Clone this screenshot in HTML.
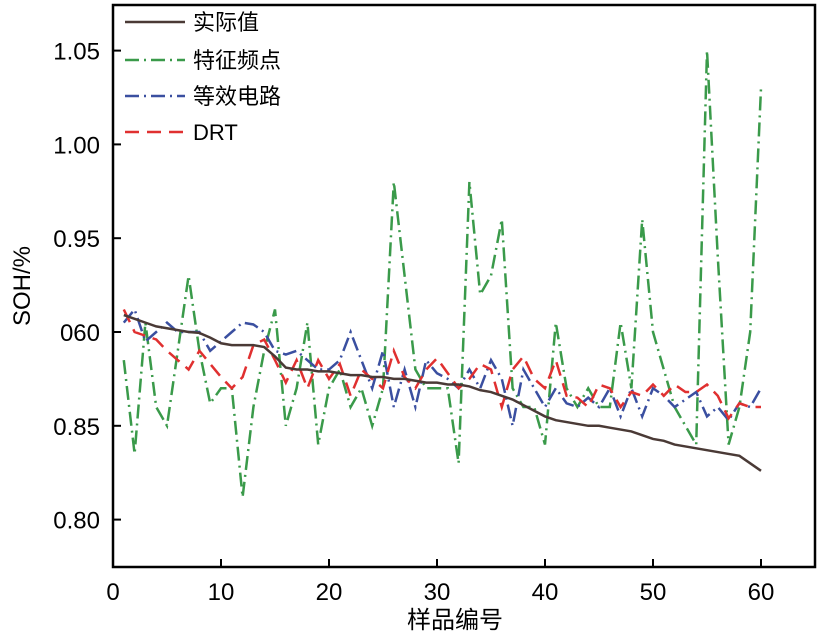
<!DOCTYPE html>
<html><head><meta charset="utf-8">
<style>
body{margin:0;background:#fff;}
svg text{font-family:"Liberation Sans","Noto Sans CJK SC",sans-serif;}
</style></head>
<body>
<svg id="chart" width="817" height="632" xmlns="http://www.w3.org/2000/svg">
<rect x="0" y="0" width="817" height="632" fill="#fff"/>
<g id="marks"></g>
<rect x="113" y="5" width="702" height="562" fill="none" stroke="#000" stroke-width="2.5"/>
<g id="axes"></g>
<text x="455" y="628" font-size="24" text-anchor="middle">样品编号</text>
<text transform="translate(30,286) rotate(-90)" font-size="24" text-anchor="middle">SOH/%</text>
<g>
<line x1="125" y1="22" x2="185" y2="22" stroke="#4a3a36" stroke-width="2.5"/>
<text x="193" y="30" font-size="22">实际值</text>
<line x1="125" y1="60" x2="185" y2="60" stroke="#3a9a4a" stroke-width="2.5" stroke-dasharray="14 5 2 5"/>
<text x="193" y="68" font-size="22">特征频点</text>
<line x1="125" y1="96" x2="185" y2="96" stroke="#3a4fa0" stroke-width="2.5" stroke-dasharray="14 5 2 5"/>
<text x="193" y="104" font-size="22">等效电路</text>
<line x1="125" y1="132" x2="185" y2="132" stroke="#e03030" stroke-width="2.5" stroke-dasharray="14 8"/>
<text x="193" y="140" font-size="22">DRT</text>
</g>
</svg>
<script>
const xTicks=[0,10,20,30,40,50,60];
const yTicks=[0.80,0.85,0.90,0.95,1.00,1.05];
const yTickLabels=["0.80","0.85","060","0.95","1.00","1.05"];
const actual=[0.909,0.907,0.905,0.903,0.902,0.901,0.9,0.8995,0.897,0.894,0.893,0.893,0.893,0.892,0.887,0.881,0.880,0.880,0.879,0.879,0.878,0.877,0.877,0.876,0.876,0.875,0.875,0.874,0.873,0.873,0.872,0.872,0.871,0.869,0.868,0.866,0.864,0.861,0.858,0.855,0.853,0.852,0.851,0.850,0.850,0.849,0.848,0.847,0.845,0.843,0.842,0.840,0.839,0.838,0.837,0.836,0.835,0.834,0.830,0.826];
const feature=[0.885,0.835,0.905,0.86,0.85,0.89,0.93,0.89,0.862,0.87,0.87,0.812,0.86,0.89,0.912,0.85,0.87,0.905,0.84,0.87,0.88,0.86,0.87,0.85,0.87,0.98,0.93,0.88,0.87,0.87,0.87,0.83,0.98,0.92,0.93,0.96,0.87,0.86,0.86,0.84,0.905,0.87,0.86,0.87,0.86,0.86,0.905,0.87,0.96,0.9,0.88,0.86,0.85,0.84,1.05,0.94,0.84,0.86,0.9,1.03];
const ecm=[0.905,0.912,0.895,0.9,0.905,0.9,0.9,0.9,0.89,0.895,0.9,0.905,0.904,0.9,0.89,0.888,0.89,0.885,0.88,0.88,0.885,0.9,0.885,0.87,0.89,0.86,0.88,0.86,0.885,0.878,0.875,0.87,0.88,0.87,0.885,0.875,0.85,0.88,0.87,0.86,0.87,0.862,0.86,0.865,0.86,0.87,0.855,0.87,0.855,0.87,0.866,0.86,0.864,0.868,0.855,0.86,0.853,0.862,0.86,0.87];
const drt=[0.912,0.9,0.898,0.896,0.89,0.885,0.88,0.89,0.883,0.876,0.87,0.876,0.893,0.896,0.885,0.873,0.885,0.87,0.885,0.875,0.883,0.866,0.88,0.875,0.87,0.89,0.876,0.87,0.88,0.886,0.878,0.87,0.875,0.883,0.88,0.86,0.88,0.887,0.875,0.87,0.885,0.866,0.865,0.86,0.872,0.87,0.86,0.868,0.866,0.872,0.866,0.872,0.868,0.868,0.872,0.866,0.854,0.862,0.86,0.86];
const X=v=>113+v*10.8;
const Y=v=>332-(v-0.9)*1876;
const NS="http://www.w3.org/2000/svg";
const marks=document.getElementById('marks');
const axes=document.getElementById('axes');
function series(arr,color,dash,name,w){
 const p=document.createElementNS(NS,'polyline');
 p.setAttribute('points',arr.map((v,i)=>X(i+1)+','+Y(v)).join(' '));
 p.setAttribute('fill','none');p.setAttribute('stroke',color);p.setAttribute('stroke-width',w);
 if(dash)p.setAttribute('stroke-dasharray',dash);
 
 
 marks.appendChild(p);
}
series(feature,'#3a9a4a','14 5 2 5','series-feature-points',2.5);
series(ecm,'#3a4fa0','14 5 2 5','series-equivalent-circuit',2.5);
series(drt,'#e03030','14 8','series-drt',2.5);
series(actual,'#4a3a36','','series-actual',2.5);
xTicks.forEach(t=>{
 const l=document.createElementNS(NS,'line');
 l.setAttribute('x1',X(t));l.setAttribute('x2',X(t));l.setAttribute('y1',567);l.setAttribute('y2',559);
 l.setAttribute('stroke','#000');l.setAttribute('stroke-width',2);
 
 
 axes.appendChild(l);
 const tx=document.createElementNS(NS,'text');
 tx.setAttribute('x',X(t));tx.setAttribute('y',600);tx.setAttribute('font-size',24);tx.setAttribute('text-anchor','middle');
 tx.textContent=t;
 
 
 axes.appendChild(tx);
});
yTicks.forEach((t,i)=>{
 const l=document.createElementNS(NS,'line');
 l.setAttribute('x1',113);l.setAttribute('x2',121);l.setAttribute('y1',Y(t));l.setAttribute('y2',Y(t));
 l.setAttribute('stroke','#000');l.setAttribute('stroke-width',2);
 
 
 axes.appendChild(l);
 const tx=document.createElementNS(NS,'text');
 tx.setAttribute('x',100);tx.setAttribute('y',Y(t)+9);tx.setAttribute('font-size',24);tx.setAttribute('text-anchor','end');
 tx.textContent=yTickLabels[i];
 
 
 axes.appendChild(tx);
});
</script>
</body></html>
